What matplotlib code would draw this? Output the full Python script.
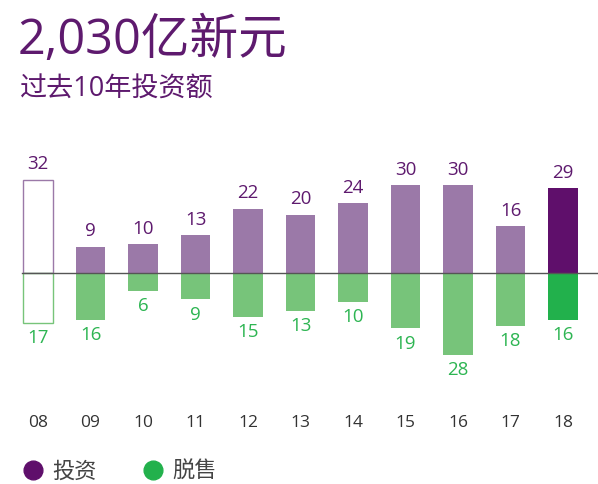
import matplotlib

matplotlib.use("Agg")
import matplotlib.pyplot as plt

years = ["08", "09", "10", "11", "12", "13", "14", "15", "16", "17", "18"]
invest = [32, 9, 10, 13, 22, 20, 24, 30, 30, 16, 29]
divest = [17, 16, 6, 9, 15, 13, 10, 19, 28, 18, 16]

PURPLE_LIGHT = "#9b79a8"
PURPLE_DARK = "#5f0f6b"
GREEN_LIGHT = "#77c47a"
GREEN_DARK = "#22b14c"
TEXT_PURPLE = "#5e1a6e"
TEXT_GREEN = "#2db552"

plt.rcParams["font.family"] = ["Open Sans", "Noto Sans CJK SC", "DejaVu Sans"]

W, H, DPI = 598, 484, 100
fig = plt.figure(figsize=(W / DPI, H / DPI), dpi=DPI, facecolor="white")
ax = fig.add_axes([0, 0, 1, 1])
ax.set_axis_off()

# pixel geometry: bar pitch 52.5px, first centre at 38px, baseline 211px above bottom
pitch, x0, base, ppu = 52.5, 38, 211, 2.92
ax.set_xlim(-x0 / pitch, (W - x0) / pitch)
ax.set_ylim(-base / ppu, (H - base) / ppu)

n = len(years)
width = 0.56
for i, (year, v, d) in enumerate(zip(years, invest, divest)):
    if i == 0:
        ax.bar(i, v, width, facecolor="white", edgecolor=PURPLE_LIGHT, linewidth=1)
        ax.bar(i, -d, width, facecolor="white", edgecolor=GREEN_LIGHT, linewidth=1)
    else:
        top = PURPLE_DARK if i == n - 1 else PURPLE_LIGHT
        bot = GREEN_DARK if i == n - 1 else GREEN_LIGHT
        ax.bar(i, v, width, color=top, linewidth=0)
        ax.bar(i, -d, width, color=bot, linewidth=0)
    ax.annotate(str(v), (i, v), xytext=(0, 11), textcoords="offset points",
                ha="center", va="center", fontsize=13.5, color=TEXT_PURPLE)
    ax.annotate(str(d), (i, -d), xytext=(0, -11), textcoords="offset points",
                ha="center", va="center", fontsize=13.5, color=TEXT_GREEN)
    ax.text(i, (61 - base) / ppu, year, ha="center", va="center", fontsize=12.5, color="#333333")

ax.plot([-width / 2 - 0.02, n], [0, 0], color="#555555", linewidth=1, zorder=3)

fig.text(18 / W, 1 - 41 / H, "2,030亿新元", fontsize=35, color=TEXT_PURPLE, va="center", ha="left")
fig.text(20 / W, 1 - 90 / H, "过去10年投资额", fontsize=19.5, color=TEXT_PURPLE, va="center", ha="left")

# legend
for cx, color, label in [(33, PURPLE_DARK, "投资"), (153, GREEN_DARK, "脱售")]:
    ax.plot([cx / W], [1 - 470 / H], marker="o", markersize=13.5, color=color,
            transform=fig.transFigure, clip_on=False)
    fig.text((cx + 19) / W, 1 - 472 / H, label, fontsize=16, color="#444444", ha="left", va="center")

fig.savefig("out.png", dpi=DPI, facecolor="white")
